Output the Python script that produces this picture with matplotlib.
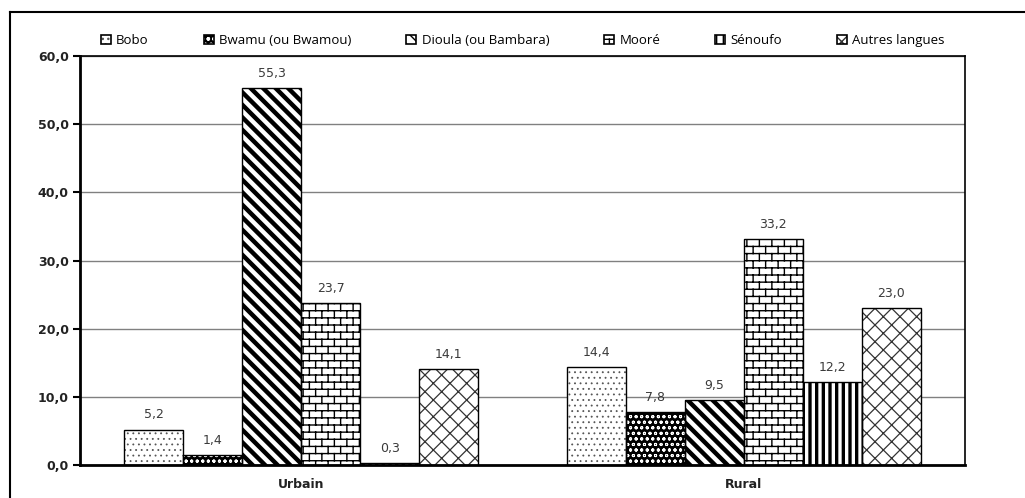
import numpy as np
import matplotlib
matplotlib.use("Agg")
import matplotlib.pyplot as plt
import matplotlib.hatch as mhatch
from matplotlib.path import Path
from matplotlib.lines import Line2D
from matplotlib.patches import Rectangle
import warnings

warnings.filterwarnings("ignore")

# données
groupes = ["Urbain", "Rural"]
langues = ["Bobo", "Bwamu (ou Bwamou)", "Dioula (ou Bambara)", "Mooré", "Sénoufo", "Autres langues"]
urbain = [5.2, 1.4, 55.3, 23.7, 0.3, 14.1]
rural = [14.4, 7.8, 9.5, 33.2, 12.2, 23.0]
yticks = [0, 10, 20, 30, 40, 50, 60]


# motif "briques" (absent de matplotlib)
class BrickHatch(mhatch.HatchPatternBase):
    def __init__(self, hatch, density):
        c = hatch.count('B')
        self.rows = 14 * c
        self.cols = 8 * c
        self.num_vertices = (self.rows * 2 + (self.rows + 1) * self.cols * 2) if c else 0

    def set_vertices_and_codes(self, vertices, codes):
        n, m = self.rows, self.cols
        ys = (np.arange(n) + 0.5) / n
        vertices[0:2 * n:2, 0] = 0.0
        vertices[0:2 * n:2, 1] = ys
        vertices[1:2 * n:2, 0] = 1.0
        vertices[1:2 * n:2, 1] = ys
        codes[0:2 * n:2] = Path.MOVETO
        codes[1:2 * n:2] = Path.LINETO
        i = 2 * n
        for k in range(-1, n):
            off = 0.5 * (k % 2)
            for j in range(m):
                xx = (j + off + 0.25) / m
                vertices[i] = (xx, (k + 0.5) / n)
                vertices[i + 1] = (xx, (k + 1.5) / n)
                codes[i] = Path.MOVETO
                codes[i + 1] = Path.LINETO
                i += 2

    def get_path(self, vertices, codes):
        self.set_vertices_and_codes(vertices, codes)


# diagonales "\" plus espacées
class DiagHatch(mhatch.HatchPatternBase):
    def __init__(self, hatch, density):
        c = hatch.count('D')
        self.num_lines = 16 * c
        self.num_vertices = (self.num_lines + 1) * 2 if c else 0

    def set_vertices_and_codes(self, vertices, codes):
        steps = np.linspace(-0.5, 0.5, self.num_lines + 1)
        vertices[0::2, 0] = 0.0 + steps
        vertices[0::2, 1] = 1.0 + steps
        vertices[1::2, 0] = 1.0 + steps
        vertices[1::2, 1] = 0.0 + steps
        codes[0::2] = Path.MOVETO
        codes[1::2] = Path.LINETO

    def get_path(self, vertices, codes):
        self.set_vertices_and_codes(vertices, codes)


# lignes verticales serrées
class VertHatch(mhatch.HatchPatternBase):
    def __init__(self, hatch, density):
        c = hatch.count('V')
        self.num_lines = 15 * c
        self.num_vertices = self.num_lines * 2

    def set_vertices_and_codes(self, vertices, codes):
        xs = (np.arange(self.num_lines) + 0.5) / self.num_lines
        vertices[0::2, 0] = xs
        vertices[0::2, 1] = 0.0
        vertices[1::2, 0] = xs
        vertices[1::2, 1] = 1.0
        codes[0::2] = Path.MOVETO
        codes[1::2] = Path.LINETO

    def get_path(self, vertices, codes):
        self.set_vertices_and_codes(vertices, codes)


for cls in (BrickHatch, DiagHatch, VertHatch):
    if cls not in mhatch._hatch_types:
        mhatch._hatch_types.append(cls)

# styles (face, couleur du motif, motif, épaisseur du motif)
styles = [
    ("white", "#555555", "...", 0.6),
    ("black", "white", "ooo", 0.7),
    ("white", "black", "D", 3.2),
    ("white", "black", "B", 1.0),
    ("white", "black", "V", 2.4),
    ("white", "#333333", "xx", 0.9),
]

fig = plt.figure(figsize=(10.25, 4.98), dpi=100)
ax = fig.add_axes([80 / 1025, 33 / 498, 885 / 1025, 409 / 498])

x = np.arange(len(groupes))
w = 0.8 / len(langues)
handles = []
for i, nom in enumerate(langues):
    vals = [urbain[i], rural[i]]
    face, hcol, hatch, hlw = styles[i]
    pos = x - 0.4 + w * (i + 0.5)
    bars = ax.bar(pos, vals, w, color=face, edgecolor=hcol, hatch=hatch, linewidth=0, zorder=2)
    for b in bars:
        if hasattr(b, "set_hatch_linewidth"):
            b.set_hatch_linewidth(hlw)
    ax.bar(pos, vals, w, fill=False, edgecolor="black", linewidth=1.0, zorder=3)
    # case de légende : motif + contour
    h1 = Rectangle((0, 0), 1, 1, facecolor=face, edgecolor=hcol, hatch=hatch, linewidth=0)
    if hasattr(h1, "set_hatch_linewidth"):
        h1.set_hatch_linewidth(min(hlw, 1.5))
    h2 = Rectangle((0, 0), 1, 1, fill=False, edgecolor="black", linewidth=1.2)
    handles.append((h1, h2))
    for p, v in zip(pos, vals):
        ax.text(p, v + 1.2, f"{v:.1f}".replace(".", ","), ha="center", va="bottom",
                fontsize=9, color="#3a3a3a", family="DejaVu Sans")

ax.set_xlim(-0.5, 1.5)
ax.set_ylim(0, 60)
ax.set_yticks(yticks)
ax.set_yticklabels([f"{t:.1f}".replace(".", ",") for t in yticks],
                   fontsize=9, fontweight="bold", color="#222222")
ax.set_xticks(x)
ax.set_xticklabels(groupes, fontsize=9, fontweight="bold", color="#222222")
ax.tick_params(axis="x", length=0, pad=9)
ax.tick_params(axis="y", length=5, width=1.5, direction="out", pad=3)
ax.yaxis.grid(True, color="#808080", linewidth=1.0, zorder=0)
ax.set_axisbelow(True)
for s in ax.spines.values():
    s.set_linewidth(1.2)
ax.spines["left"].set_linewidth(2)
ax.spines["bottom"].set_linewidth(2)

leg = fig.legend(handles, langues, loc="lower left", mode="expand",
                 bbox_to_anchor=(101 / 1025, 1 - 47 / 498, 844 / 1025, 20 / 498),
                 ncol=6, frameon=False, handlelength=0.75, handleheight=0.75,
                 handletextpad=0.4, borderaxespad=0, borderpad=0,
                 prop={"family": "Open Sans", "size": 9.5})

# cadre extérieur
fig.add_artist(Line2D([9.5 / 1025, 9.5 / 1025], [0, 1 - 12 / 498], transform=fig.transFigure,
                      color="black", linewidth=1.5))
fig.add_artist(Line2D([9.5 / 1025, 1], [1 - 12 / 498, 1 - 12 / 498], transform=fig.transFigure,
                      color="black", linewidth=1.5))

fig.savefig("out.png", dpi=100)
